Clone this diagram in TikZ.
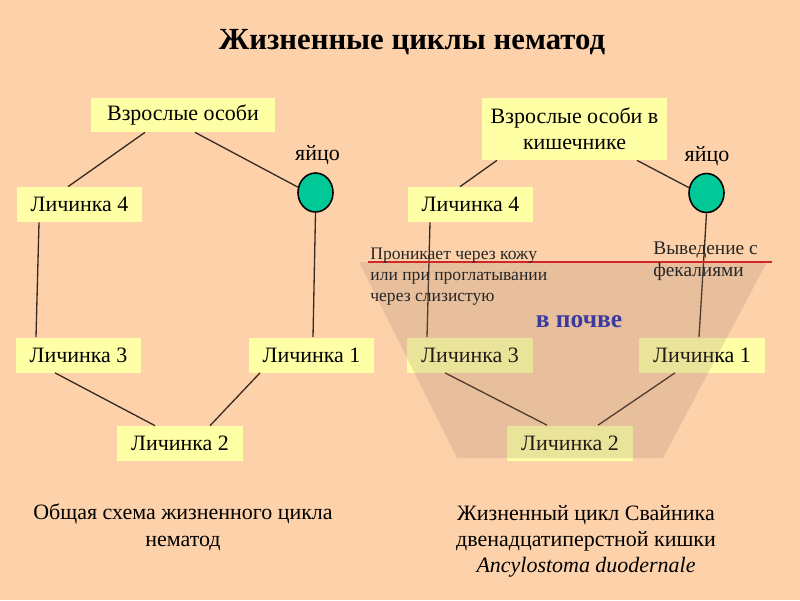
\documentclass[tikz,border=0pt]{standalone}
\usepackage{fontspec}
\setmainfont{Liberation Serif}
\usetikzlibrary{calc,shapes.geometric}
\definecolor{bg}{HTML}{FDD2AA}
\definecolor{boxy}{HTML}{FFFFA6}
\definecolor{eggc}{HTML}{00C896}
\definecolor{linec}{HTML}{3A2A20}
\definecolor{redl}{HTML}{D02828}
\definecolor{soil}{HTML}{A08070}
\definecolor{blu}{HTML}{3A3AA0}
\tikzset{
  stagebox/.style={fill=boxy, inner sep=0pt, minimum width=2.52cm, minimum height=0.7cm, font=\fontsize{12.5}{14}\selectfont, text=black},
  eggnode/.style={ellipse, draw=black, line width=0.9pt, fill=eggc, minimum width=0.7cm, minimum height=0.78cm, inner sep=0pt},
  conn/.style={draw=linec, line width=0.75pt},
  lbl/.style={font=\fontsize{12.5}{14}\selectfont, inner sep=0pt},
  small/.style={font=\fontsize{10}{12}\selectfont, inner sep=0pt, anchor=base west, text=black!85},
}
\begin{document}
\begin{tikzpicture}[x=0.02cm,y=-0.02cm]
\fill[bg] (0,0) rectangle (800,600);
\useasboundingbox (0,0) rectangle (800,600);

\node[font=\fontsize{17.5}{20}\bfseries, inner sep=0pt] (title) at (412,42) {Жизненные циклы нематод};

% left diagram
\node[stagebox, minimum width=3.68cm, minimum height=0.68cm] (adultL) at (183,115) {Взрослые особи};
\node[eggnode] (eggL) at (315.5,192.5) {};
\node[lbl] (yaL) at (317.5,155) {яйцо};
\node[stagebox] (L4L) at (79.5,204.5) {Личинка 4};
\node[stagebox] (L3L) at (78.5,355) {Личинка 3};
\node[stagebox] (L1L) at (311.5,355) {Личинка 1};
\node[stagebox] (L2L) at (180,443.5) {Личинка 2};

\draw[conn] ($(adultL.south)+(-38,0)$) -- ($(L4L.north)+(-11.5,0)$);
\draw[conn] ($(adultL.south)+(12,0)$) -- (eggL.163);
\draw[conn] ($(L4L.south)+(-40.5,0)$) -- ($(L3L.north)+(-42.5,0)$);
\draw[conn] (eggL.south) -- ($(L1L.north)+(1.5,0)$);
\draw[conn] ($(L3L.south)+(-23.5,0)$) -- ($(L2L.north)+(-25,0)$);
\draw[conn] ($(L1L.south)+(-51.5,0)$) -- ($(L2L.north)+(30,0)$);

% right diagram
\node[stagebox, minimum width=3.7cm, minimum height=1.24cm, align=center, font=\fontsize{12.5}{14.7}\selectfont] (adultR) at (574.5,129) {Взрослые особи в\\кишечнике};
\node[eggnode] (eggR) at (706.5,193) {};
\node[lbl] (yaR) at (707,156) {яйцо};
\node[stagebox] (L4R) at (470.5,204.5) {Личинка 4};
\node[stagebox] (L3R) at (470,355) {Личинка 3};
\node[stagebox] (L1R) at (702,355) {Личинка 1};
\node[stagebox] (L2R) at (570,443) {Личинка 2};

\draw[conn] ($(adultR.south)+(-77.5,0)$) -- ($(L4R.north)+(-10.5,0)$);
\draw[conn] ($(adultR.south)+(62.5,0)$) -- (eggR.163);
\draw[conn] ($(L4R.south)+(-40.5,0)$) -- ($(L3R.north)+(-43,0)$);
\draw[conn] (eggR.south) -- ($(L1R.north)+(-3,0)$);
\draw[conn] ($(L3R.south)+(-25,0)$) -- ($(L2R.north)+(-23,0)$);
\draw[conn] ($(L1R.south)+(-27,0)$) -- ($(L2R.north)+(28,0)$);

% soil zone
\fill[soil, opacity=0.22] (359,262) -- (767,262) -- (663,458) -- (457,458) -- cycle;
\coordinate (rl1) at (368,262);
\coordinate (rl2) at (772,262);
\draw[redl, line width=0.9pt] (rl1) -- (rl2);

\node[small] (p1) at (370,259) {Проникает через кожу};
\node[small] (p2) at (370,280) {или при проглатывании};
\node[small] (p3) at (370,301) {через слизистую};
\node[small, font=\fontsize{11}{13}\selectfont] (v1) at (653,254) {Выведение с};
\node[small, font=\fontsize{11}{13}\selectfont] (v2) at (653,276) {фекалиями};
\node[font=\fontsize{14.5}{16}\bfseries, text=blu, inner sep=0pt] (soilt) at (579,322) {в почве};

% captions
\node[lbl, align=center, font=\fontsize{12.5}{15.2}\selectfont] (capL) at (183,527) {Общая схема жизненного цикла\\нематод};
\node[lbl, align=center, font=\fontsize{12.5}{14.8}\selectfont] (capR) at (586,541) {Жизненный цикл Свайника\\двенадцатиперстной кишки\\\textit{Ancylostoma duodernale}};
\end{tikzpicture}
\end{document}
